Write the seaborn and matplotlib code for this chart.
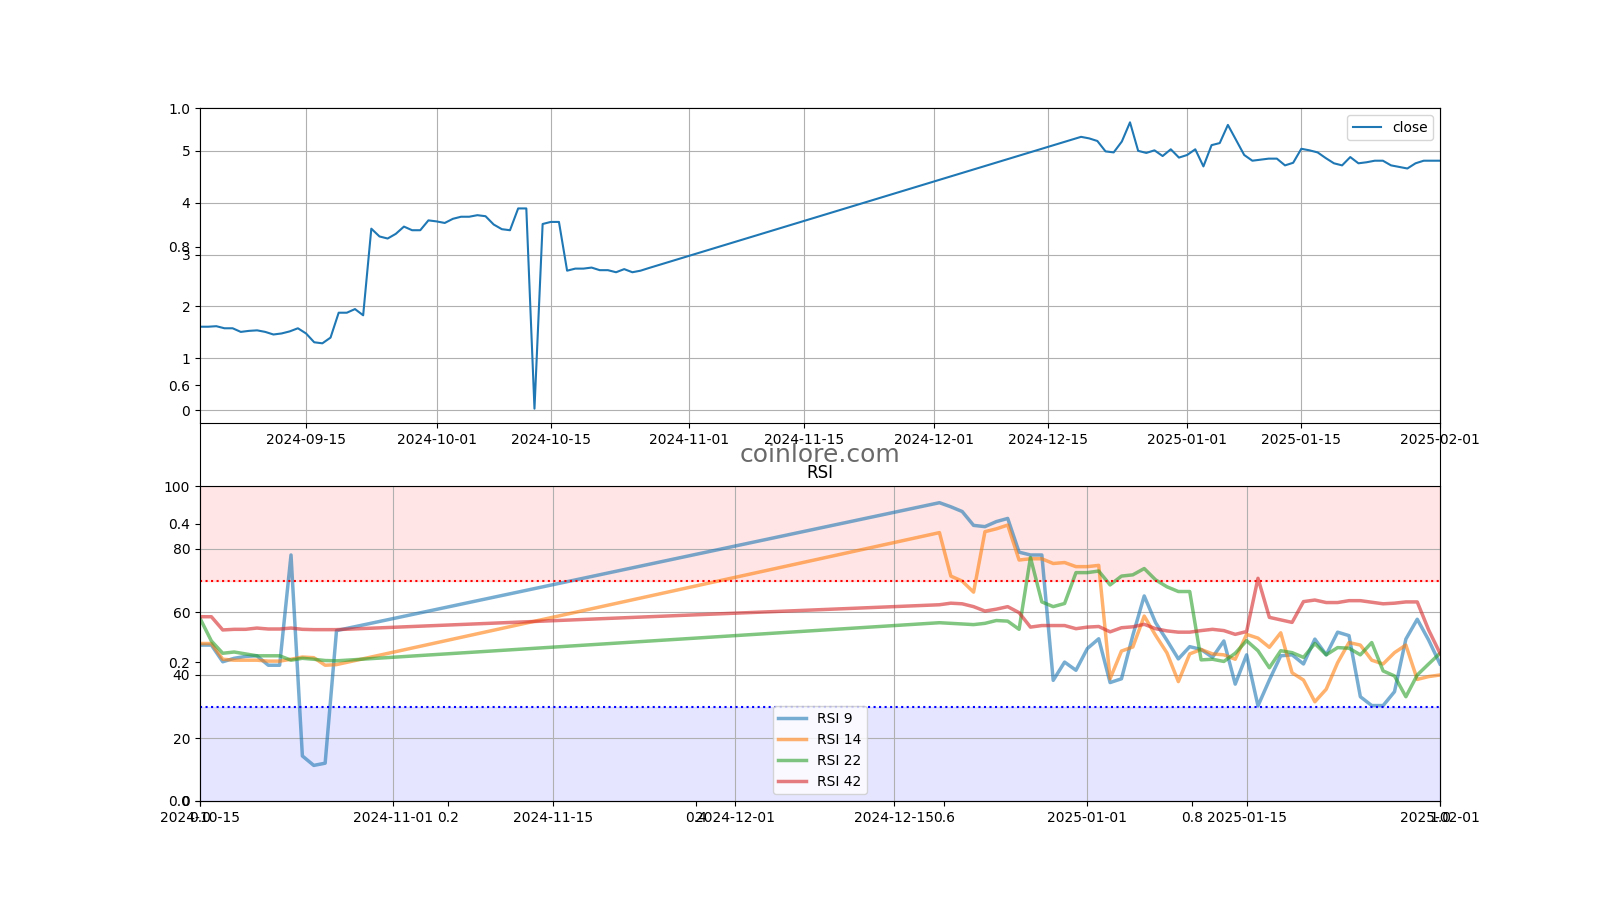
import matplotlib
matplotlib.use("Agg")
import matplotlib.pyplot as plt
import seaborn as sns
import pandas as pd

# ---------------- data ----------------
close_dates = list(pd.date_range("2024-09-02", "2024-10-27")) + list(pd.date_range("2024-12-19", "2025-02-01"))
close_values = [
    1.61, 1.61, 1.62, 1.58, 1.58, 1.51, 1.53, 1.54, 1.51, 1.46,
    1.48, 1.52, 1.58, 1.48, 1.31, 1.29, 1.40, 1.88, 1.88, 1.95,
    1.83, 3.50, 3.35, 3.31, 3.40, 3.54, 3.47, 3.47, 3.66, 3.64,
    3.61, 3.69, 3.73, 3.73, 3.76, 3.74, 3.58, 3.49, 3.47, 3.89,
    3.89, 0.03, 3.59, 3.63, 3.63, 2.69, 2.73, 2.73, 2.75, 2.70,
    2.70, 2.66, 2.72, 2.66, 2.69, 2.74,
    5.27, 5.24, 5.19, 4.99, 4.97, 5.18, 5.55, 5.00, 4.96, 5.01,
    4.90, 5.03, 4.87, 4.92, 5.03, 4.70, 5.11, 5.15, 5.50, 5.21,
    4.92, 4.81, 4.83, 4.85, 4.85, 4.72, 4.77, 5.04, 5.01, 4.97,
    4.86, 4.76, 4.72, 4.88, 4.76, 4.78, 4.81, 4.81, 4.72, 4.69,
    4.66, 4.76, 4.81, 4.81, 4.81,
]

rsi_dates = list(pd.date_range("2024-10-15", "2024-10-27")) + list(pd.date_range("2024-12-19", "2025-02-01"))
rsi_9 = [
    49.5, 49.5, 44.2, 45.3, 45.9, 46.1, 43.1, 43.1, 78.1, 14.3, 11.3, 12.0, 54.1,
    94.7, 93.4, 91.9, 87.5, 87.1, 88.7, 89.7, 79.0, 78.1, 78.1,
    38.3, 44.1, 41.5, 48.4, 51.5, 37.6, 38.8, 52.6, 65.1, 56.6,
    51.0, 45.1, 49.0, 48.1, 45.6, 50.8, 37.1, 46.4, 30.2, 38.4,
    46.1, 46.4, 43.5, 51.4, 46.4, 53.6, 52.5, 33.1, 30.3, 30.3,
    34.7, 51.4, 57.7, 51.1, 43.5,
]
rsi_14 = [
    50.0, 50.0, 45.0, 44.7, 44.7, 44.7, 44.4, 44.4, 45.0, 45.7, 45.5, 43.1, 43.3,
    85.2, 71.4, 69.8, 66.3, 85.5, 86.4, 87.6, 76.5, 76.9, 76.9,
    75.4, 75.7, 74.4, 74.4, 74.8, 38.8, 47.6, 48.9, 58.7, 52.6,
    47.0, 37.9, 46.7, 48.1, 46.7, 46.4, 45.0, 52.9, 51.7, 48.8,
    53.4, 40.7, 38.4, 31.5, 35.5, 43.9, 50.3, 49.5, 44.7, 43.5,
    47.1, 49.5, 38.6, 39.5, 40.0,
]
rsi_22 = [
    58.0, 50.8, 46.9, 47.3, 46.7, 46.1, 46.1, 46.1, 44.7, 45.3, 45.0, 44.6, 44.5,
    56.6, 56.4, 56.2, 56.0, 56.4, 57.3, 57.1, 54.5, 77.3, 63.2,
    61.7, 62.7, 72.5, 72.5, 73.0, 68.6, 71.4, 71.8, 73.8, 70.2,
    68.0, 66.5, 66.5, 44.8, 45.0, 44.3, 46.9, 50.9, 47.7, 42.3,
    47.7, 47.1, 45.6, 50.0, 46.4, 48.7, 48.5, 46.4, 50.3, 41.3,
    39.7, 33.1, 40.0, 43.5, 46.9,
]
rsi_42 = [
    58.5, 58.5, 54.3, 54.5, 54.5, 54.9, 54.6, 54.6, 54.9, 54.5, 54.4, 54.4, 54.4,
    62.3, 62.8, 62.6, 61.7, 60.3, 60.9, 61.7, 59.8, 55.2, 55.7,
    55.7, 55.7, 54.7, 55.2, 55.4, 53.7, 55.0, 55.3, 56.1, 54.7,
    54.0, 53.6, 53.6, 54.1, 54.5, 54.1, 52.9, 53.8, 70.7, 58.3,
    57.5, 56.7, 63.3, 63.8, 63.0, 63.0, 63.6, 63.6, 63.1, 62.6,
    62.8, 63.2, 63.2, 54.3, 46.9,
]
rsi_labels = ["RSI 9", "RSI 14", "RSI 22", "RSI 42"]
rsi_series = [rsi_9, rsi_14, rsi_22, rsi_42]
rsi_colors = ["tab:blue", "tab:orange", "tab:green", "tab:red"]
overbought, oversold = 70, 30

# ---------------- figure ----------------
plt.rcParams["font.family"] = ["DejaVu Sans"]
fig, ax0 = plt.subplots(figsize=(16, 9), dpi=100)
ax0.text(0.5, 0.5, "coinlore.com", transform=ax0.transAxes, ha="center",
         va="center", fontsize=18, color="dimgray")

ax1 = fig.add_subplot(211)
close_df = pd.DataFrame({"date": close_dates, "close": close_values})
sns.lineplot(data=close_df, x="date", y="close", ax=ax1, color="tab:blue",
             linewidth=1.5, label="close")
ax1.set_xlim(close_dates[0], close_dates[-1])
ax1.grid(True)
ax1.set_xlabel("")
ax1.set_ylabel("")
ax1.legend(loc="upper right")

ax2 = fig.add_subplot(212)
rsi_df = pd.DataFrame({"date": rsi_dates})
for lab, vals, col in zip(rsi_labels, rsi_series, rsi_colors):
    rsi_df[lab] = vals
    sns.lineplot(data=rsi_df, x="date", y=lab, ax=ax2, color=col, alpha=0.6,
                 linewidth=2.5, label=lab)
ax2.axhline(overbought, color="red", linestyle=":", linewidth=1.5)
ax2.axhline(oversold, color="blue", linestyle=":", linewidth=1.5)
ax2.axhspan(overbought, 100, color="red", alpha=0.1)
ax2.axhspan(0, oversold, color="blue", alpha=0.1)
ax2.set_ylim(0, 100)
ax2.set_xlim(rsi_dates[0], rsi_dates[-1])
ax2.grid(True)
ax2.set_title("RSI")
ax2.set_xlabel("")
ax2.set_ylabel("")
ax2.legend(loc="lower center")

fig.savefig("out.png", dpi=100)
